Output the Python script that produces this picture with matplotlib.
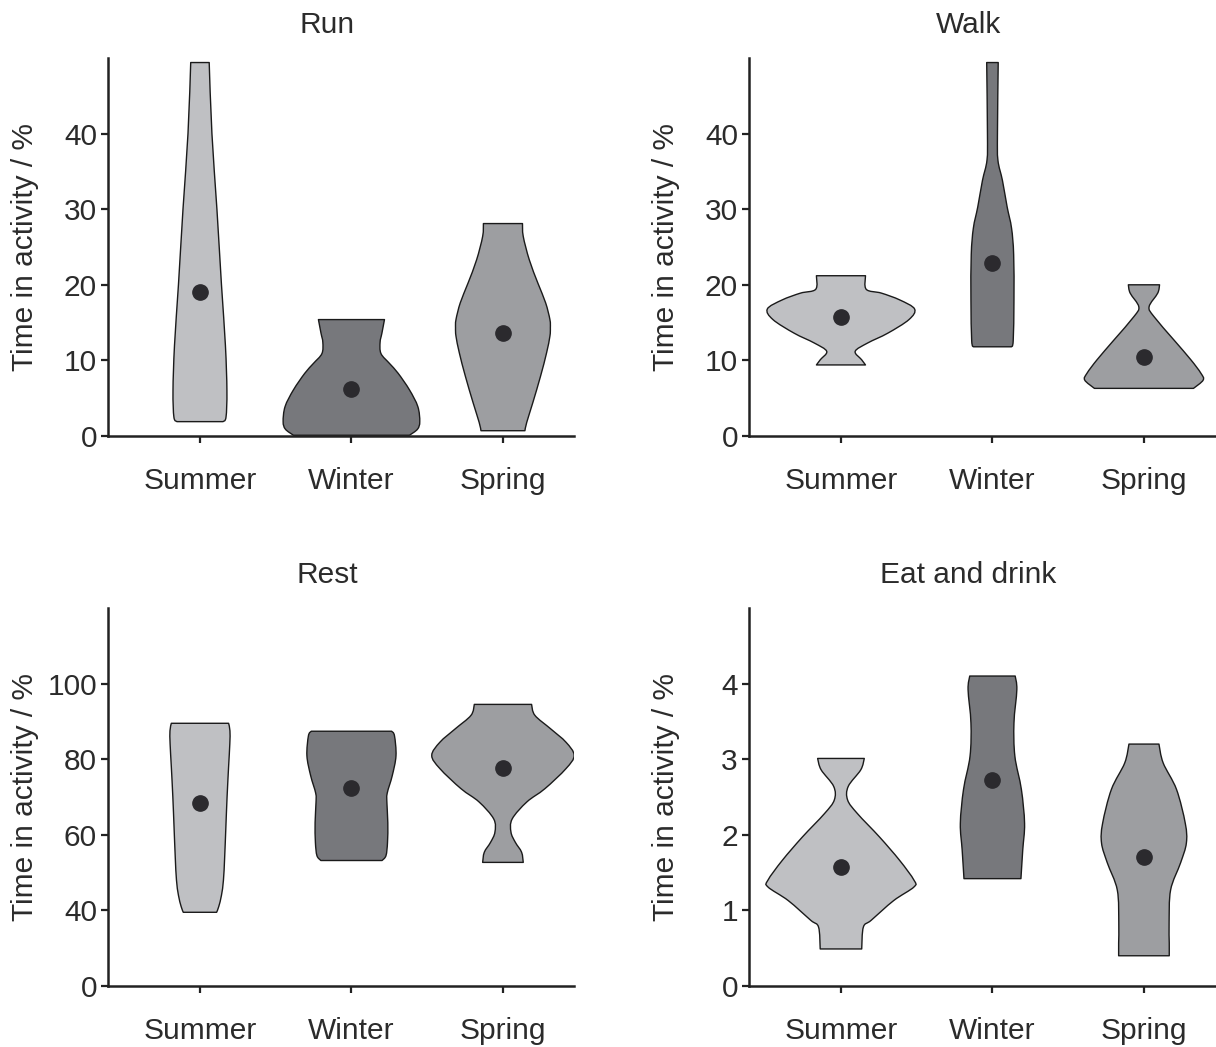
import numpy as np
import matplotlib.pyplot as plt
from matplotlib.path import Path
from matplotlib.patches import PathPatch

plt.rcParams['font.family'] = ['Liberation Sans', 'DejaVu Sans']

seasons = ['Summer', 'Winter', 'Spring']
season_colors = ['#bfc0c3', '#77787c', '#9d9ea1']
ylabel = 'Time in activity / %'

#%% violin outlines: levels (y) and half widths (in category units), plus means
run_y = [[1.9, 2.5, 6, 12, 20, 30, 40, 49.4],
         [0.1, 0.9, 1.9, 3.9, 6.1, 8.3, 9.6, 10.9, 12.4, 13.6, 15.4],
         [0.7, 1.8, 4.4, 7.9, 11.0, 13.2, 14.3, 15.4, 17.6, 20.2, 23.3, 26.4, 28.1]]
run_w = [[0.152, 0.172, 0.178, 0.168, 0.142, 0.112, 0.079, 0.061],
         [0.383, 0.436, 0.451, 0.438, 0.383, 0.308, 0.251, 0.195, 0.189, 0.201, 0.218],
         [0.145, 0.157, 0.197, 0.248, 0.288, 0.310, 0.313, 0.310, 0.282, 0.231, 0.174, 0.134, 0.129]]
run_mean = [19.0, 6.2, 13.6]

walk_y = [[9.4, 10.1, 11.2, 12.3, 13.6, 15.4, 16.8, 18.0, 18.9, 19.4, 21.2],
          [11.8, 12.6, 18, 24, 27.5, 30.3, 33.8, 36.5, 40, 49.4],
          [6.3, 7.4, 8.3, 10.1, 12.7, 15.8, 17.1, 18.9, 20.0]]
walk_w = [[0.162, 0.136, 0.094, 0.176, 0.309, 0.449, 0.486, 0.388, 0.267, 0.167, 0.162],
          [0.125, 0.137, 0.142, 0.140, 0.126, 0.097, 0.066, 0.036, 0.033, 0.038],
          [0.327, 0.391, 0.376, 0.309, 0.198, 0.066, 0.034, 0.091, 0.103]]
walk_mean = [15.7, 22.9, 10.5]

rest_y = [[39.5, 41, 44, 48, 54, 62, 70, 78, 84, 87.5, 89.5],
          [53.2, 54.5, 58, 63.2, 68.5, 71, 75.6, 80.9, 86.2, 87.4],
          [52.7, 55.4, 58.0, 60.7, 64.2, 68.7, 72.2, 77.5, 81.0, 84.5, 88.0, 91.6, 94.5]]
rest_w = [[0.110, 0.124, 0.142, 0.155, 0.163, 0.171, 0.179, 0.189, 0.197, 0.198, 0.189],
          [0.202, 0.228, 0.238, 0.240, 0.234, 0.236, 0.269, 0.294, 0.284, 0.265],
          [0.134, 0.123, 0.082, 0.053, 0.061, 0.158, 0.277, 0.416, 0.470, 0.416, 0.316, 0.211, 0.189]]
rest_mean = [68.5, 72.3, 77.7]

eat_y = [[0.49, 0.78, 0.87, 1.13, 1.31, 1.40, 1.66, 1.97, 2.28, 2.46, 2.64, 2.86, 3.01],
         [1.42, 1.80, 2.15, 2.60, 3.04, 3.48, 3.92, 4.10],
         [0.40, 0.57, 0.83, 1.27, 1.63, 1.89, 2.15, 2.60, 2.95, 3.20]]
eat_w = [[0.137, 0.148, 0.200, 0.348, 0.482, 0.482, 0.388, 0.255, 0.109, 0.044, 0.048, 0.131, 0.154],
         [0.188, 0.200, 0.212, 0.191, 0.148, 0.142, 0.161, 0.150],
         [0.167, 0.167, 0.166, 0.176, 0.242, 0.280, 0.273, 0.215, 0.127, 0.099]]
eat_mean = [1.58, 2.72, 1.71]

panels = [
    dict(title='Run', y=run_y, w=run_w, mean=run_mean, ylim=(0, 50),
         ticks=[0, 10, 20, 30, 40], labels=['0', '10', '20', '30', '40']),
    dict(title='Walk', y=walk_y, w=walk_w, mean=walk_mean, ylim=(0, 50),
         ticks=[0, 10, 20, 30, 40], labels=['0', '10', '20', '30', '40']),
    dict(title='Rest', y=rest_y, w=rest_w, mean=rest_mean, ylim=(20, 120),
         ticks=[20, 40, 60, 80, 100], labels=['0', '40', '60', '80', '100']),
    dict(title='Eat and drink', y=eat_y, w=eat_w, mean=eat_mean, ylim=(0, 5),
         ticks=[0, 1, 2, 3, 4], labels=['0', '1', '2', '3', '4']),
]


def add_curve(verts, codes, pts):
    # Catmull-Rom through the knots, written as cubic Bezier segments
    P = np.asarray(pts, dtype=float)
    n = len(P)
    for i in range(n - 1):
        p0, p1, p2, p3 = P[max(i - 1, 0)], P[i], P[i + 1], P[min(i + 2, n - 1)]
        verts += [p1 + (p2 - p0) / 6, p2 - (p3 - p1) / 6, p2]
        codes += [Path.CURVE4] * 3


def violin_path(xc, ys, ws):
    right = [(xc + w, y) for y, w in zip(ys, ws)]
    left = [(xc - w, y) for y, w in zip(ys[::-1], ws[::-1])]
    verts, codes = [right[0]], [Path.MOVETO]
    add_curve(verts, codes, right)
    verts.append(left[0]); codes.append(Path.LINETO)
    add_curve(verts, codes, left)
    verts += [right[0], right[0]]
    codes += [Path.LINETO, Path.CLOSEPOLY]
    return Path(np.array(verts), codes)


fig = plt.figure(figsize=(12.16, 10.47), dpi=100)
W, H = 1216, 1047
boxes = [(108, 58), (749, 58), (108, 608), (749, 608)]
ax_w, ax_h = 466, 378
text_col = '#2b2b2b'
fs = 21.5

for (px, py), p in zip(boxes, panels):
    ax = fig.add_axes([px / W, 1 - (py + ax_h) / H, ax_w / W, ax_h / H])
    for i, (ys, ws) in enumerate(zip(p['y'], p['w'])):
        patch = PathPatch(violin_path(i, ys, ws), facecolor=season_colors[i],
                          edgecolor='#1a1a1a', linewidth=1.0, joinstyle='round', zorder=2)
        ax.add_patch(patch)
    ax.plot(range(3), p['mean'], 'o', ms=11, color='#2b2a2e', zorder=3)

    ax.set_xlim(-0.607, 2.469)
    ax.set_ylim(*p['ylim'])
    ax.set_xticks(range(3))
    ax.set_xticklabels(seasons)
    ax.set_yticks(p['ticks'])
    ax.set_yticklabels(p['labels'])
    for s in ['top', 'right']:
        ax.spines[s].set_visible(False)
    for s in ['left', 'bottom']:
        ax.spines[s].set_linewidth(1.8)
        ax.spines[s].set_color('#222222')
    ax.tick_params(axis='both', direction='out', length=5, width=1.6, color='#222222',
                   labelsize=fs, labelcolor=text_col)
    ax.tick_params(axis='x', pad=17)
    ax.tick_params(axis='y', pad=3)
    ax.set_ylabel(ylabel, fontsize=fs, color=text_col)
    ax.yaxis.set_label_coords(-0.147, 0.5)
    ax.set_title(p['title'], x=0.471, pad=18, fontsize=fs, color=text_col)

fig.savefig('out.png', dpi=100)
